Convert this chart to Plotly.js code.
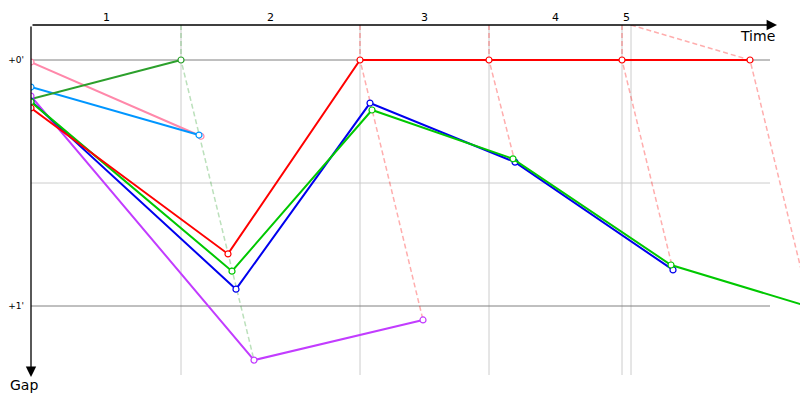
<!DOCTYPE html>
<html>
<head>
<meta charset="utf-8">
<script src="https://cdn.plot.ly/plotly-3.0.1.min.js"></script>
<style>html,body{margin:0;padding:0;background:#fff}#chart{width:800px;height:400px}</style>
</head>
<body>
<div id="chart"></div>
<script>
// Lap boundaries (leader crossing times, seconds)
const lapEdges = [0, 150, 329, 458, 591, 600];
const lapLabels = ['1', '2', '3', '4', '5'];

// Gap tick labels
const gapTickVals = [0, 60];
const gapTickText = ["+0'", "+1'"];
const gapMidLine = 30;

// Car series: time (s) and gap to leader (s)
const pinkT = [0, 170];        const pinkGap = [0.5, 18.6];
const lightBlueT = [0, 168];   const lightBlueGap = [6.6, 18.3];
const darkGreenT = [0, 150];   const darkGreenGap = [9.5, 0];
const purpleT = [0, 223, 392]; const purpleGap = [8.8, 73.2, 63.4];
const blueT = [0, 205, 339, 484, 642];       const blueGap = [10.0, 55.9, 10.5, 24.9, 51.2];
const greenT = [0, 201, 341, 482, 640, 830]; const greenGap = [10.2, 51.5, 12.2, 24.1, 50.0, 64.0];
const redT = [0, 197, 329, 458, 591, 719];   const redGap = [11.7, 47.3, 0, 0, 0, 0];

// Lap crossing lines (dashed): start time at top, leader crossing, last car crossing
const dashTopT = [150, 329, 458, 591, 600];
const dashLeadT = [150, 329, 458, 591, 719];
const dashEndT = [223, 392, 484, 642, 800];
const dashEndGap = [73.2, 63.4, 24.9, 51.2, 81];
const dashColors = ['rgba(44,160,44,0.32)', 'rgba(255,0,0,0.32)', 'rgba(255,0,0,0.32)', 'rgba(255,0,0,0.32)', 'rgba(255,0,0,0.32)'];

const xRange = [0, 769];
const yRange = [76.83, -8.537];
const gridEnd = 739;

const traces = [];
for (let i = 0; i < dashTopT.length; i++) {
  traces.push({
    x: [dashTopT[i], dashLeadT[i], dashEndT[i]],
    y: [yRange[1], 0, dashEndGap[i]],
    mode: 'lines', type: 'scatter', hoverinfo: 'skip',
    line: {color: dashColors[i], width: 1.5, dash: '5px,3px'}
  });
}
function car(t, g, color) {
  return {
    x: t, y: g, mode: 'lines+markers', type: 'scatter',
    line: {color: color, width: 2},
    marker: {symbol: 'circle', size: 6, color: '#ffffff', line: {color: color, width: 1.2}}
  };
}
traces.push(car(pinkT, pinkGap, '#ff88aa'));
traces.push(car(lightBlueT, lightBlueGap, '#0096ff'));
traces.push(car(darkGreenT, darkGreenGap, '#2ca02c'));
traces.push(car(purpleT, purpleGap, '#c23cff'));
traces.push(car(blueT, blueGap, '#0000ee'));
traces.push(car(greenT, greenGap, '#00c800'));
traces.push(car(redT, redGap, '#ff0000'));

const shapes = [];
// lap vertical lines
for (let i = 1; i < lapEdges.length; i++) {
  shapes.push({type: 'line', layer: 'below', xref: 'x', yref: 'paper', x0: lapEdges[i], x1: lapEdges[i], y0: 0, y1: 1,
    line: {color: '#cccccc', width: 1}});
}
// horizontal gap lines
gapTickVals.forEach(v => shapes.push({type: 'line', layer: 'below', xref: 'x', yref: 'y', x0: 0, x1: gridEnd, y0: v, y1: v,
  line: {color: '#808080', width: 1}}));
shapes.push({type: 'line', layer: 'below', xref: 'x', yref: 'y', x0: 0, x1: gridEnd, y0: gapMidLine, y1: gapMidLine,
  line: {color: '#cccccc', width: 1}});

const annotations = [];
for (let i = 0; i < lapLabels.length; i++) {
  annotations.push({x: (lapEdges[i] + lapEdges[i + 1]) / 2, y: 1, xref: 'x', yref: 'paper', yanchor: 'bottom', yshift: -1,
    text: lapLabels[i], showarrow: false, font: {family: 'DejaVu Sans', size: 11, color: '#000'}});
}
// axis arrows
annotations.push({x: 746 / 769, y: 1, xref: 'paper', yref: 'paper', ax: -746, ay: 0, axref: 'pixel', ayref: 'pixel',
  text: '', showarrow: true, arrowhead: 2, arrowsize: 1.6, arrowwidth: 1.3, arrowcolor: '#000', standoff: 0});
annotations.push({x: 0, y: -2 / 350, xref: 'paper', yref: 'paper', ax: 0, ay: -352, axref: 'pixel', ayref: 'pixel',
  text: '', showarrow: true, arrowhead: 2, arrowsize: 1.6, arrowwidth: 1.3, arrowcolor: '#000', standoff: 0});
annotations.push({x: 746 / 769, y: 1, xref: 'paper', yref: 'paper', xanchor: 'right', yanchor: 'top', yshift: -1,
  text: 'Time', showarrow: false, font: {family: 'DejaVu Sans', size: 14, color: '#000'}});
annotations.push({x: 0, y: 0, xref: 'paper', yref: 'paper', xanchor: 'center', yanchor: 'top', xshift: -7, yshift: 0,
  text: 'Gap', showarrow: false, font: {family: 'DejaVu Sans', size: 14, color: '#000'}});

const layout = {
  width: 800, height: 400,
  margin: {l: 31, r: 0, t: 25, b: 25},
  paper_bgcolor: '#fff', plot_bgcolor: '#fff',
  showlegend: false,
  xaxis: {range: xRange, showgrid: false, zeroline: false, showticklabels: false, showline: false, ticks: ''},
  yaxis: {range: yRange, showgrid: false, zeroline: false, showline: false, ticks: '',
    tickvals: gapTickVals, ticktext: gapTickText, ticklabelstandoff: 6,
    tickfont: {family: 'DejaVu Sans', size: 9, color: '#000'}},
  shapes: shapes,
  annotations: annotations
};
Plotly.newPlot('chart', traces, layout, {staticPlot: true});
</script>
</body>
</html>
